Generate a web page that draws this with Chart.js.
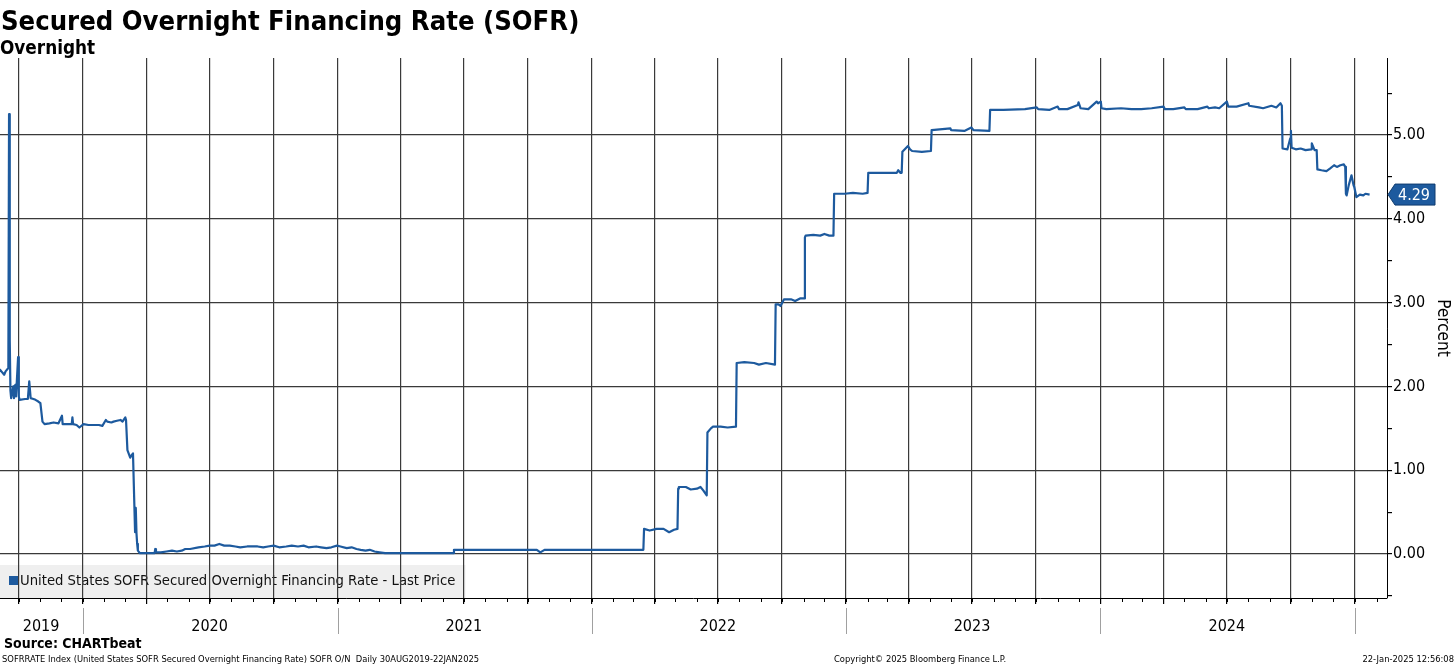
<!DOCTYPE html>
<html lang="en">
<head>
<meta charset="UTF-8">
<title>Secured Overnight Financing Rate (SOFR)</title>
<script src="https://cdn.jsdelivr.net/npm/chart.js"></script>
<style>
  body { margin: 0; background: #fff; }
  #wrap { position: relative; width: 1456px; height: 665px; overflow: hidden;
          font-family: "DejaVu Sans Condensed", "DejaVu Sans", sans-serif; color: #000; }
  #grafico { position: absolute; left: 0; top: 0; }
  .txt { position: absolute; white-space: nowrap; }
  #titulo { left: 1px; top: 5px; font-size: 27.2px; font-weight: bold; }
  #subtitulo { left: 0px; top: 37px; font-size: 18.8px; font-weight: bold; }
  #fonte { left: 4px; top: 635px; font-size: 14px; font-weight: bold; }
  .rodape { top: 653px; font-size: 9.3px; }
  #info { left: 2px; }
  #copy { left: 834px; }
  #hora { right: 2px; }
</style>
</head>
<body>
<div id="wrap">
  <canvas id="grafico" width="1456" height="665"></canvas>
  <div class="txt" id="titulo">Secured Overnight Financing Rate (SOFR)</div>
  <div class="txt" id="subtitulo">Overnight</div>
  <div class="txt" id="fonte">Source: CHARTbeat</div>
  <div class="txt rodape" id="info">SOFRRATE Index (United States SOFR Secured Overnight Financing Rate) SOFR O/N&nbsp; Daily 30AUG2019-22JAN2025</div>
  <div class="txt rodape" id="copy">Copyright© 2025 Bloomberg Finance L.P.</div>
  <div class="txt rodape" id="hora">22-Jan-2025 12:56:08</div>
</div>

<script>
// SOFR (datas de mudanca + ruido visivel)
const dates = [
  '2019-08-30','2019-09-04','2019-09-06','2019-09-10','2019-09-12','2019-09-16','2019-09-17','2019-09-18','2019-09-19','2019-09-20',
  '2019-09-23','2019-09-24','2019-09-26','2019-09-27','2019-09-30','2019-10-01','2019-10-02','2019-10-10','2019-10-14','2019-10-16',
  '2019-10-18','2019-10-22','2019-10-25','2019-10-29','2019-11-01','2019-11-04','2019-11-07','2019-11-14','2019-11-20','2019-11-27',
  '2019-12-02','2019-12-03','2019-12-10','2019-12-16','2019-12-17','2019-12-18','2019-12-23','2019-12-27','2020-01-02','2020-01-09',
  '2020-01-16','2020-01-24','2020-01-29','2020-02-03','2020-02-05','2020-02-11','2020-02-14','2020-02-19','2020-02-24','2020-02-27',
  '2020-03-02','2020-03-03','2020-03-05','2020-03-09','2020-03-11','2020-03-13','2020-03-16','2020-03-17','2020-03-18','2020-03-19',
  '2020-03-20','2020-03-23','2020-04-13','2020-04-14','2020-04-15','2020-04-22','2020-04-30','2020-05-08','2020-05-15','2020-05-22',
  '2020-05-27','2020-06-03','2020-06-15','2020-06-24','2020-07-01','2020-07-08','2020-07-15','2020-07-22','2020-07-30','2020-08-07',
  '2020-08-14','2020-08-24','2020-09-08','2020-09-16','2020-09-23','2020-10-01','2020-10-09','2020-10-19','2020-10-27','2020-11-05',
  '2020-11-13','2020-11-20','2020-12-01','2020-12-08','2020-12-16','2020-12-23','2020-12-31','2021-01-05','2021-01-14','2021-01-21',
  '2021-01-28','2021-02-03','2021-02-10','2021-02-16','2021-02-23','2021-03-02','2021-03-10','2021-06-16','2021-06-17','2021-10-14',
  '2021-10-19','2021-10-25','2022-03-16','2022-03-17','2022-03-25','2022-04-04','2022-04-14','2022-04-22','2022-04-29','2022-05-04',
  '2022-05-05','2022-05-06','2022-05-16','2022-05-23','2022-06-01','2022-06-06','2022-06-10','2022-06-15','2022-06-16','2022-06-21',
  '2022-06-24','2022-07-05','2022-07-15','2022-07-27','2022-07-28','2022-08-08','2022-08-22','2022-08-29','2022-09-08','2022-09-21',
  '2022-09-22','2022-09-26','2022-09-29','2022-10-04','2022-10-14','2022-10-20','2022-10-27','2022-11-02','2022-11-03','2022-11-04',
  '2022-11-15','2022-11-25','2022-12-01','2022-12-08','2022-12-14','2022-12-15','2022-12-30','2023-01-11','2023-01-25','2023-02-01',
  '2023-02-02','2023-02-15','2023-03-02','2023-03-15','2023-03-17','2023-03-20','2023-03-22','2023-03-23','2023-03-31','2023-04-03',
  '2023-04-06','2023-04-20','2023-05-03','2023-05-04','2023-05-31','2023-06-01','2023-06-20','2023-06-30','2023-07-03','2023-07-26',
  '2023-07-27','2023-08-15','2023-09-15','2023-10-02','2023-10-04','2023-10-20','2023-11-01','2023-11-03','2023-11-15','2023-11-30',
  '2023-12-01','2023-12-04','2023-12-15','2023-12-27','2023-12-29','2024-01-02','2024-01-03','2024-01-10','2024-01-31','2024-02-15',
  '2024-02-29','2024-03-15','2024-04-01','2024-04-03','2024-04-15','2024-05-01','2024-05-03','2024-05-20','2024-06-03','2024-06-05',
  '2024-06-14','2024-06-20','2024-07-01','2024-07-03','2024-07-15','2024-08-01','2024-08-02','2024-08-16','2024-08-22','2024-09-03',
  '2024-09-10','2024-09-16','2024-09-18','2024-09-19','2024-09-26','2024-09-30','2024-10-01','2024-10-02','2024-10-08','2024-10-15',
  '2024-10-22','2024-10-30','2024-10-31','2024-11-04','2024-11-07','2024-11-08','2024-11-14','2024-11-21','2024-11-26','2024-12-02',
  '2024-12-06','2024-12-11','2024-12-16','2024-12-18','2024-12-19','2024-12-20','2024-12-23','2024-12-27','2024-12-30','2024-12-31',
  '2025-01-03','2025-01-08','2025-01-13','2025-01-16','2025-01-22'
];
const sofr = [
  2.10, 2.20, 2.18, 2.14, 2.18, 2.22, 5.25, 2.55, 1.95, 1.86,
  2.00, 1.86, 2.02, 1.88, 2.35, 1.88, 1.84, 1.85, 1.85, 2.06,
  1.86, 1.85, 1.84, 1.82, 1.80, 1.58, 1.55, 1.56, 1.57, 1.56,
  1.65, 1.55, 1.55, 1.55, 1.63, 1.55, 1.54, 1.51, 1.55, 1.54,
  1.54, 1.54, 1.53, 1.60, 1.58, 1.57, 1.58, 1.59, 1.60, 1.58,
  1.63, 1.60, 1.24, 1.15, 1.18, 1.20, 0.26, 0.55, 0.25, 0.12,
  0.04, 0.01, 0.01, 0.06, 0.02, 0.02, 0.03, 0.04, 0.03, 0.04,
  0.06, 0.06, 0.08, 0.09, 0.10, 0.10, 0.12, 0.10, 0.10, 0.09,
  0.08, 0.09, 0.09, 0.08, 0.09, 0.10, 0.08, 0.09, 0.10, 0.09,
  0.10, 0.08, 0.09, 0.08, 0.07, 0.08, 0.10, 0.09, 0.07, 0.08,
  0.06, 0.05, 0.04, 0.05, 0.03, 0.02, 0.01, 0.01, 0.05, 0.05,
  0.02, 0.05, 0.05, 0.30, 0.28, 0.30, 0.30, 0.26, 0.29, 0.30,
  0.78, 0.80, 0.80, 0.77, 0.78, 0.80, 0.76, 0.70, 1.45, 1.50,
  1.52, 1.52, 1.51, 1.52, 2.28, 2.29, 2.28, 2.26, 2.28, 2.26,
  2.98, 2.98, 2.96, 3.04, 3.04, 3.02, 3.05, 3.05, 3.78, 3.80,
  3.81, 3.80, 3.82, 3.80, 3.80, 4.30, 4.30, 4.31, 4.30, 4.31,
  4.55, 4.55, 4.55, 4.55, 4.58, 4.55, 4.55, 4.80, 4.87, 4.83,
  4.81, 4.80, 4.81, 5.06, 5.08, 5.06, 5.05, 5.09, 5.06, 5.05,
  5.30, 5.30, 5.31, 5.33, 5.31, 5.30, 5.34, 5.31, 5.31, 5.36,
  5.39, 5.32, 5.31, 5.40, 5.38, 5.40, 5.32, 5.31, 5.32, 5.31,
  5.31, 5.32, 5.34, 5.31, 5.31, 5.33, 5.31, 5.31, 5.34, 5.32,
  5.33, 5.32, 5.40, 5.34, 5.34, 5.38, 5.35, 5.33, 5.32, 5.35,
  5.33, 5.38, 5.35, 4.84, 4.83, 4.96, 5.05, 4.85, 4.83, 4.84,
  4.82, 4.83, 4.90, 4.82, 4.82, 4.59, 4.58, 4.57, 4.60, 4.64,
  4.62, 4.64, 4.65, 4.62, 4.30, 4.28, 4.40, 4.52, 4.40, 4.38,
  4.26, 4.29, 4.28, 4.30, 4.29
];

// eixos
const xStart = '2019-09-04';
const xEnd = '2025-02-16';
const yearLabels = ['2019', '2020', '2021', '2022', '2023', '2024'];
const yearLabelDates = ['2019-11-02', '2020-07-01', '2021-07-01', '2022-07-01', '2023-07-01', '2024-07-01'];
const yTicks = [-0.5, 0, 0.5, 1, 1.5, 2, 2.5, 3, 3.5, 4, 4.5, 5, 5.5];
const legendText = 'United States SOFR Secured Overnight Financing Rate - Last Price';
const yTitle = 'Percent';

const LINHA = '#1d5a9e';
const FONTE = '"DejaVu Sans Condensed", "DejaVu Sans", sans-serif';

function ms(d) { return Date.parse(d + 'T00:00:00Z'); }

// inicio de cada trimestre (linhas verticais)
const gridDates = [];
for (let a = 2019; a <= 2025; a++) {
  ['01', '04', '07', '10'].forEach(m => {
    const t = ms(a + '-' + m + '-01');
    if (t > ms(xStart) && t < ms(xEnd)) gridDates.push(t);
  });
}
const labelMs = yearLabelDates.map(ms);
const xTicks = [...new Set(gridDates.concat(labelMs))].sort((a, b) => a - b);

const pontos = dates.map((d, i) => ({ x: ms(d), y: sofr[i] }));

// legenda, separadores de ano, marcas mensais e etiqueta do ultimo valor
const extras = {
  id: 'extras',
  beforeDraw(chart) {
    const { ctx, chartArea } = chart;
    ctx.save();
    ctx.font = '14.7px ' + FONTE;
    const w = ctx.measureText(legendText).width;
    ctx.fillStyle = '#efefef';
    ctx.fillRect(chartArea.left, chartArea.bottom - 33, w + 30, 33);
    ctx.fillStyle = LINHA;
    ctx.fillRect(chartArea.left + 9, chartArea.bottom - 22, 9, 9);
    ctx.fillStyle = '#111';
    ctx.textBaseline = 'middle';
    ctx.fillText(legendText, chartArea.left + 20, chartArea.bottom - 17);
    ctx.restore();
  },
  afterDraw(chart) {
    const { ctx, chartArea, scales } = chart;
    const x = scales.x, y = scales.y;
    ctx.save();
    // marcas mensais
    ctx.strokeStyle = '#000';
    ctx.lineWidth = 1;
    for (let a = 2019; a <= 2025; a++) {
      for (let m = 0; m < 12; m++) {
        const t = Date.UTC(a, m, 1);
        if (t <= ms(xStart) || t >= ms(xEnd)) continue;
        const px = Math.round(x.getPixelForValue(t)) + 0.5;
        ctx.beginPath();
        ctx.moveTo(px, chartArea.bottom);
        ctx.lineTo(px, chartArea.bottom + 4);
        ctx.stroke();
      }
    }
    // separadores entre anos
    ctx.strokeStyle = '#a0a0a0';
    for (let a = 2020; a <= 2025; a++) {
      const px = Math.round(x.getPixelForValue(Date.UTC(a, 0, 1))) + 0.5;
      ctx.beginPath();
      ctx.moveTo(px, chartArea.bottom + 10);
      ctx.lineTo(px, chartArea.bottom + 36);
      ctx.stroke();
    }
    // etiqueta do ultimo valor
    const ult = sofr[sofr.length - 1];
    const py = y.getPixelForValue(ult);
    const x0 = chartArea.right + 1;
    ctx.beginPath();
    ctx.moveTo(x0, py);
    ctx.lineTo(x0 + 7, py - 10.5);
    ctx.lineTo(x0 + 47, py - 10.5);
    ctx.lineTo(x0 + 47, py + 10.5);
    ctx.lineTo(x0 + 7, py + 10.5);
    ctx.closePath();
    ctx.fillStyle = LINHA;
    ctx.fill();
    ctx.strokeStyle = '#0e3b6e';
    ctx.stroke();
    ctx.fillStyle = '#fff';
    ctx.font = '16px ' + FONTE;
    ctx.textAlign = 'center';
    ctx.textBaseline = 'middle';
    ctx.fillText(ult.toFixed(2), x0 + 26, py + 1);
    ctx.restore();
  }
};

const ctx = document.getElementById('grafico').getContext('2d');
new Chart(ctx, {
  type: 'line',
  data: {
    datasets: [{
      label: legendText,
      data: pontos,
      borderColor: LINHA,
      borderWidth: 2.2,
      borderJoinStyle: 'round',
      pointRadius: 0,
      tension: 0,
      fill: false
    }]
  },
  options: {
    responsive: false,
    animation: false,
    layout: { padding: { top: 58, left: 0, right: 0, bottom: 25 } },
    plugins: { legend: { display: false }, tooltip: { enabled: false } },
    scales: {
      x: {
        type: 'linear',
        min: ms(xStart),
        max: ms(xEnd),
        afterBuildTicks: s => { s.ticks = xTicks.map(v => ({ value: v })); },
        afterFit: s => { s.height = 42; },
        border: { display: true, color: '#000', width: 1 },
        grid: {
          color: c => gridDates.includes(c.tick.value) ? '#3a3a3a' : 'rgba(0,0,0,0)',
          tickColor: c => gridDates.includes(c.tick.value) ? '#000' : 'rgba(0,0,0,0)',
          lineWidth: 1.2,
          tickLength: 6
        },
        ticks: {
          autoSkip: false,
          maxRotation: 0,
          padding: 13,
          color: '#000',
          font: { family: FONTE, size: 16 },
          callback: v => {
            const i = labelMs.indexOf(v);
            return i >= 0 ? yearLabels[i] : '';
          }
        }
      },
      y: {
        position: 'right',
        min: -0.525,
        max: 5.92,
        afterBuildTicks: s => { s.ticks = yTicks.map(v => ({ value: v })); },
        afterFit: s => { s.width = 69; },
        border: { display: true, color: '#000', width: 1 },
        grid: {
          color: c => Number.isInteger(c.tick.value) ? '#3a3a3a' : 'rgba(0,0,0,0)',
          tickColor: '#000',
          lineWidth: 1.2,
          tickLength: 5
        },
        ticks: {
          padding: 1,
          color: '#000',
          font: { family: FONTE, size: 16 },
          callback: v => Number.isInteger(v) ? v.toFixed(2) : ''
        },
        title: {
          display: true,
          text: yTitle,
          color: '#000',
          font: { family: FONTE, size: 17 },
          padding: { top: 3, bottom: 0 }
        }
      }
    }
  },
  plugins: [extras]
});
</script>
</body>
</html>
